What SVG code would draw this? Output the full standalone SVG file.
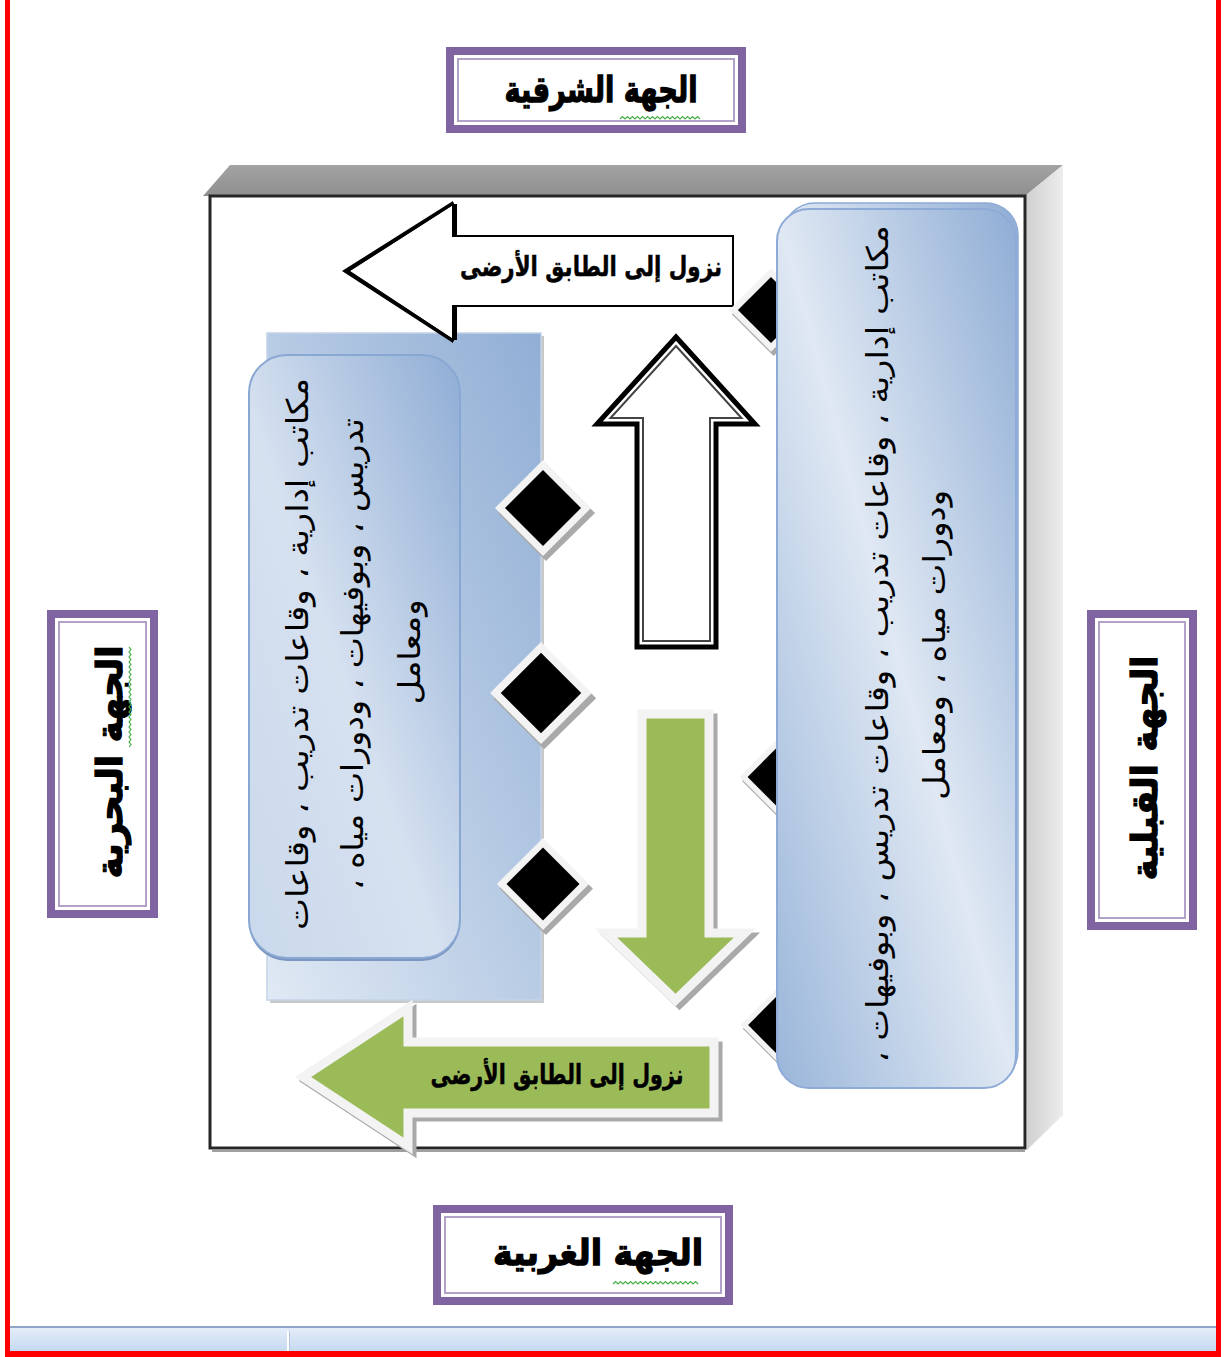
<svg xmlns="http://www.w3.org/2000/svg" xmlns:xlink="http://www.w3.org/1999/xlink" width="1224" height="1357" viewBox="0 0 1224 1357">
<defs>
  <linearGradient id="gTop" x1="0" y1="0" x2="0" y2="1"><stop offset="0" stop-color="#a3a3a3"/><stop offset="1" stop-color="#8f8f8f"/></linearGradient>
  <linearGradient id="gSide" x1="0" y1="0" x2="1" y2="0"><stop offset="0" stop-color="#cfcfcf"/><stop offset="1" stop-color="#ededed"/></linearGradient>
  <linearGradient id="gBlueL" x1="1" y1="0" x2="0" y2="1"><stop offset="0" stop-color="#90aed5"/><stop offset="1" stop-color="#e0e9f4"/></linearGradient>
  <linearGradient id="gBlueF" x1="1" y1="0" x2="0" y2="1"><stop offset="0" stop-color="#8fadd5"/><stop offset="0.55" stop-color="#d6e1f0"/><stop offset="1" stop-color="#c9d8eb"/></linearGradient>
  <linearGradient id="gBlueR" x1="1" y1="0" x2="0" y2="1"><stop offset="0" stop-color="#8fadd5"/><stop offset="0.5" stop-color="#dfe8f3"/><stop offset="1" stop-color="#9ab6da"/></linearGradient>
  <linearGradient id="gStrip" x1="0" y1="0" x2="0" y2="1"><stop offset="0" stop-color="#e4edf9"/><stop offset="1" stop-color="#c6d9f1"/></linearGradient>
  <g id="dia">
    <polygon points="3,-44 52,5 3,53 -45,5" fill="#a9a9a9"/>
    <polygon points="0,-48 48,0 0,48 -48,0" fill="#f3f3f3"/>
    <polygon points="0,-38 38,0 0,38 -38,0" fill="#000000"/>
  </g>
</defs>
<style>
  .lbl { font-family: "DejaVu Sans", "Noto Sans", sans-serif; font-weight: bold; font-size: 36px; fill: #000; stroke: #000; stroke-width: 1.3; }
  .arw { font-family: "DejaVu Sans", "Noto Sans", sans-serif; font-weight: bold; font-size: 27px; fill: #000; stroke: #000; stroke-width: 0.5; }
  .body { font-family: "DejaVu Sans", "Noto Sans", sans-serif; font-size: 30px; fill: #000; }
  .boxo { fill: #ffffff; stroke: #8064a2; stroke-width: 8; }
  .boxi { fill: none; stroke: #b3a2c7; stroke-width: 2; }
  .sq { fill: none; stroke: #47ad47; stroke-width: 1.2; }
  .green { fill: #9bbb59; stroke: #f3f3f3; stroke-width: 9; stroke-linejoin: miter; }
  .gshadow { fill: #a9a9a9; stroke: #a9a9a9; stroke-width: 9; }
</style>

<g id="page-border">
  <rect x="5" y="0" width="5" height="1357" fill="#ff0000"/>
  <rect x="1216" y="0" width="5" height="1357" fill="#ff0000"/>
</g>

<g id="statusbar">
  <rect x="10" y="1326" width="1206" height="2" fill="#8fa6c6"/>
  <rect x="10" y="1328" width="1206" height="23" fill="url(#gStrip)"/>
  <rect x="287" y="1331" width="2" height="20" fill="#ffffff"/>
  <rect x="289" y="1331" width="1" height="20" fill="#b5c6de"/>
  <rect x="5" y="1351" width="1216" height="6" fill="#ff0000"/>
</g>

<g id="frame">
  <polygon points="203,196 230,165 1063,165 1025,196" fill="url(#gTop)"/>
  <polygon points="1025,196 1063,165 1063,1115 1027,1150" fill="url(#gSide)"/>
  <rect x="210" y="196" width="815" height="952" fill="#ffffff" stroke="#262626" stroke-width="3"/>
  <line x1="212" y1="1151" x2="1025" y2="1151" stroke="#a0a0a0" stroke-width="2"/>
</g>

<g id="label-east">
  <rect class="boxo" x="450" y="51" width="292" height="78"/>
  <rect class="boxi" x="458" y="59" width="276" height="62"/>
  <text class="lbl" x="601" y="102" text-anchor="middle" direction="rtl" textLength="193" lengthAdjust="spacingAndGlyphs">الجهة الشرقية</text>
  <path class="sq" d="M620 119 l2.5 -2.5 2.5 2.5 2.5 -2.5 2.5 2.5 2.5 -2.5 2.5 2.5 2.5 -2.5 2.5 2.5 2.5 -2.5 2.5 2.5 2.5 -2.5 2.5 2.5 2.5 -2.5 2.5 2.5 2.5 -2.5 2.5 2.5 2.5 -2.5 2.5 2.5 2.5 -2.5 2.5 2.5 2.5 -2.5 2.5 2.5 2.5 -2.5 2.5 2.5 2.5 -2.5 2.5 2.5 2.5 -2.5 2.5 2.5 2.5 -2.5 2.5 2.5 2.5 -2.5 2.5 2.5"/>
</g>

<g id="label-north">
  <rect class="boxo" x="51" y="614" width="103" height="300"/>
  <rect class="boxi" x="59" y="622" width="87" height="284"/>
  <text class="lbl" transform="translate(122,762) rotate(-90)" text-anchor="middle" direction="rtl" textLength="233" lengthAdjust="spacingAndGlyphs">الجهة البحرية</text>
  <path class="sq" d="M129 647 l2 2.5 -2 2.5 2 2.5 -2 2.5 2 2.5 -2 2.5 2 2.5 -2 2.5 2 2.5 -2 2.5 2 2.5 -2 2.5 2 2.5 -2 2.5 2 2.5 -2 2.5 2 2.5 -2 2.5 2 2.5 -2 2.5 2 2.5 -2 2.5 2 2.5 -2 2.5 2 2.5 -2 2.5 2 2.5 -2 2.5 2 2.5 -2 2.5 2 2.5 -2 2.5 2 2.5 -2 2.5 2 2.5 -2 2.5 2 2.5 -2 2.5 2 2.5 -2 2.5"/>
</g>

<g id="label-south">
  <rect class="boxo" x="1091" y="614" width="102" height="312"/>
  <rect class="boxi" x="1099" y="622" width="86" height="296"/>
  <text class="lbl" transform="translate(1157,768) rotate(-90)" text-anchor="middle" direction="rtl" textLength="225" lengthAdjust="spacingAndGlyphs">الجهة القبلية</text>
</g>

<g id="label-west">
  <rect class="boxo" x="437" y="1209" width="292" height="92"/>
  <rect class="boxi" x="445" y="1217" width="276" height="76"/>
  <text class="lbl" x="598" y="1265" text-anchor="middle" direction="rtl" textLength="210" lengthAdjust="spacingAndGlyphs">الجهة الغربية</text>
  <path class="sq" d="M613 1284 l2.5 -2.5 2.5 2.5 2.5 -2.5 2.5 2.5 2.5 -2.5 2.5 2.5 2.5 -2.5 2.5 2.5 2.5 -2.5 2.5 2.5 2.5 -2.5 2.5 2.5 2.5 -2.5 2.5 2.5 2.5 -2.5 2.5 2.5 2.5 -2.5 2.5 2.5 2.5 -2.5 2.5 2.5 2.5 -2.5 2.5 2.5 2.5 -2.5 2.5 2.5 2.5 -2.5 2.5 2.5 2.5 -2.5 2.5 2.5 2.5 -2.5 2.5 2.5 2.5 -2.5 2.5 2.5 2.5 -2.5 2.5 2.5"/>
</g>

<g id="left-block">
  <rect x="270" y="336" width="274" height="667" fill="#c8c8c8"/>
  <rect x="267" y="333" width="274" height="667" fill="url(#gBlueL)" stroke="#c3d3e9" stroke-width="1.5"/>
  <rect x="249" y="358" width="211" height="603" rx="38" fill="#7b97bf"/>
  <rect x="249" y="355" width="211" height="603" rx="38" fill="url(#gBlueF)" stroke="#88a7d2" stroke-width="2"/>
  <g class="body" text-anchor="middle" direction="rtl">
    <text transform="translate(308,654) rotate(-90)" textLength="552" lengthAdjust="spacingAndGlyphs">مكاتب إدارية ، وقاعات تدريب ، وقاعات</text>
    <text transform="translate(363,654) rotate(-90)" textLength="472" lengthAdjust="spacingAndGlyphs">تدريس ، وبوفيهات ، ودورات مياه ،</text>
    <text transform="translate(420,652) rotate(-90)" textLength="105" lengthAdjust="spacingAndGlyphs">ومعامل</text>
  </g>
</g>

<g id="left-diamonds">
  <use xlink:href="#dia" transform="translate(543,508)"/>
  <use xlink:href="#dia" transform="translate(541,693) scale(1.06)"/>
  <use xlink:href="#dia" transform="translate(543,884) scale(0.96)"/>
</g>

<g id="arrow-top-white">
  <path d="M348,271 L453,204 L453,236 L733,236 L733,306 L453,306 L453,340 Z" fill="#ffffff" stroke="#000000" stroke-width="2"/>
  <line x1="455" y1="204" x2="455" y2="237" stroke="#000" stroke-width="4"/>
  <line x1="455" y1="305" x2="455" y2="340" stroke="#000" stroke-width="4"/>
  <polygon points="342,271 453,201 453,205 350,271" fill="#000"/>
  <polygon points="342,271 453,343 453,339 350,271" fill="#000"/>
  <text class="arw" x="591" y="276" text-anchor="middle" direction="rtl" textLength="262" lengthAdjust="spacingAndGlyphs">نزول إلى الطابق الأرضى</text>
</g>

<g id="arrow-up">
  <path d="M676,337 L755,424 L716,424 L716,647 L637,647 L637,424 L597,424 Z" fill="#ffffff" stroke="#000000" stroke-width="5" stroke-linejoin="miter"/>
  <path d="M676,346 L741.5,418 L710,418 L710,641 L643,641 L643,418 L610.5,418 Z" fill="none" stroke="#444444" stroke-width="2"/>
</g>

<g id="arrow-down-green">
  <path class="gshadow" d="M646,718 L713,718 L713,937 L749,937 L679.5,1004 L610,937 L646,937 Z"/>
  <path class="green" d="M642,714 L709,714 L709,933 L745,933 L675.5,1000 L606,933 L642,933 Z"/>
</g>

<g id="right-diamonds">
  <use xlink:href="#dia" transform="translate(771,310) scale(0.87)"/>
  <use xlink:href="#dia" transform="translate(778,777) scale(0.8)"/>
  <use xlink:href="#dia" transform="translate(777,1025) scale(0.76)"/>
</g>

<g id="right-block">
  <rect x="783" y="203" width="235" height="880" rx="32" fill="url(#gBlueR)" stroke="#8eaad6" stroke-width="1.5"/>
  <rect x="777" y="209" width="239" height="879" rx="32" fill="url(#gBlueR)" stroke="#8eaad6" stroke-width="2"/>
  <g class="body" text-anchor="middle" direction="rtl">
    <text transform="translate(888,644) rotate(-90)" textLength="837" lengthAdjust="spacingAndGlyphs">مكاتب إدارية ، وقاعات تدريب ، وقاعات تدريس ، وبوفيهات ،</text>
    <text transform="translate(945,645) rotate(-90)" textLength="310" lengthAdjust="spacingAndGlyphs">ودورات مياه ، ومعامل</text>
  </g>
</g>

<g id="arrow-bottom-green">
  <path class="gshadow" d="M307,1081 L412,1012 L412,1046 L718,1046 L718,1117 L412,1117 L412,1150 Z"/>
  <path class="green" d="M303,1077 L408,1008 L408,1042 L714,1042 L714,1113 L408,1113 L408,1146 Z"/>
  <text class="arw" x="557" y="1084" text-anchor="middle" direction="rtl" textLength="253" lengthAdjust="spacingAndGlyphs">نزول إلى الطابق الأرضى</text>
</g>
</svg>
